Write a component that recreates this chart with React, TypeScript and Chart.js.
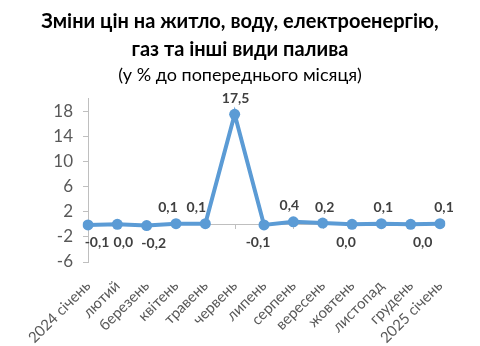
import React, { useEffect, useRef } from "react";
import { Chart, registerables } from "chart.js";

Chart.register(...registerables);

const categories = [
  "2024 січень", "лютий", "березень", "квітень", "травень", "червень",
  "липень", "серпень", "вересень", "жовтень", "листопад", "грудень", "2025 січень",
];
const values = [-0.1, 0.0, -0.2, 0.1, 0.1, 17.5, -0.1, 0.4, 0.2, 0.0, 0.1, 0.0, 0.1];
const yTicks = [-6, -2, 2, 6, 10, 14, 18];
const labelPlacement = ["below", "below", "below", "above", "above", "above", "below", "above", "above", "below", "above", "below", "above"];
const labelShiftX = [9, 6, 7, -8, -9, 1, -6, -4, 2, -6, 2, 12, 4];

const FONT = "Lato, 'Open Sans', sans-serif";

const zeroLinePlugin = {
  id: "zeroLine",
  beforeDatasetsDraw(chart: any) {
    const { ctx, chartArea, scales } = chart;
    const y0 = Math.round(scales.y.getPixelForValue(0));
    ctx.save();
    ctx.strokeStyle = "#bfbfbf";
    ctx.lineWidth = 1;
    ctx.beginPath();
    ctx.moveTo(chartArea.left, y0 + 0.5);
    ctx.lineTo(chartArea.right, y0 + 0.5);
    for (let i = 0; i < categories.length; i++) {
      const x = Math.round(scales.x.getPixelForValue(i)) + 0.5;
      ctx.moveTo(x, y0);
      ctx.lineTo(x, y0 + 5);
    }
    ctx.stroke();
    ctx.restore();
  },
};

const labelPlugin = {
  id: "pointLabels",
  afterDatasetsDraw(chart: any) {
    const { ctx } = chart;
    const meta = chart.getDatasetMeta(0);
    ctx.save();
    ctx.font = `bold 14px ${FONT}`;
    ctx.fillStyle = "#404040";
    ctx.textAlign = "center";
    ctx.textBaseline = "middle";
    meta.data.forEach((pt: any, i: number) => {
      const v = values[i];
      const txt = v.toFixed(1).replace(".", ",");
      const dy = labelPlacement[i] === "above" ? -16 : 18;
      ctx.fillText(txt, pt.x + labelShiftX[i], pt.y + dy);
    });
    ctx.restore();
  },
};

export default function App() {
  const ref = useRef<HTMLCanvasElement>(null);
  useEffect(() => {
    document.body.style.margin = "0";
    const chart = new Chart(ref.current!, {
      type: "line",
      data: {
        labels: categories,
        datasets: [
          {
            data: values,
            borderColor: "#5b9bd5",
            backgroundColor: "#5b9bd5",
            borderWidth: 4,
            pointRadius: 5.5,
            pointBorderWidth: 0,
            pointBackgroundColor: "#5b9bd5",
            tension: 0,
          },
        ],
      },
      options: {
        animation: false,
        responsive: false,
        maintainAspectRatio: false,
        layout: { padding: { left: 0, right: 0, top: 0, bottom: 0 } },
        plugins: {
          legend: { display: false },
          tooltip: { enabled: false },
          title: {
            display: true,
            text: ["Зміни цін на житло, воду, електроенергію,", "газ та інші види палива"],
            color: "#000000",
            font: { family: FONT, size: 20, weight: "bold", lineHeight: 1.4 },
            padding: { top: 8, bottom: 0 },
          },
          subtitle: {
            display: true,
            text: "(у % до попереднього місяця)",
            color: "#000000",
            font: { family: FONT, size: 18, weight: "normal", lineHeight: 1.2 },
            padding: { top: 0, bottom: 13 },
          },
        },
        scales: {
          x: {
            type: "category",
            offset: false,
            grid: { display: false, drawTicks: false },
            border: { display: false },
            ticks: {
              color: "#595959",
              font: { family: FONT, size: 15 },
              minRotation: 45,
              maxRotation: 45,
              autoSkip: false,
              padding: 15,
            },
            afterFit(scale: any) {
              scale.height = 84;
            },
          },
          y: {
            min: -6,
            max: 20,
            afterBuildTicks(scale: any) {
              scale.ticks = yTicks.map((v) => ({ value: v }));
            },
            grid: {
              display: true,
              drawOnChartArea: false,
              drawTicks: true,
              tickLength: 5,
              color: "#bfbfbf",
            },
            border: { display: true, color: "#bfbfbf", width: 1 },
            ticks: {
              color: "#595959",
              font: { family: FONT, size: 17 },
              padding: 10,
            },
            afterFit(scale: any) {
              scale.width = 88;
            },
          },
          yRight: {
            type: "linear",
            position: "right",
            display: true,
            grid: { display: false, drawTicks: false },
            border: { display: false },
            ticks: { display: false },
            afterFit(scale: any) {
              scale.width = 40;
            },
          },
        },
      } as any,
      plugins: [zeroLinePlugin, labelPlugin],
    });
    return () => chart.destroy();
  }, []);
  return (
    <div style={{ width: 480, height: 346, background: "#fff" }}>
      <canvas ref={ref} width={480} height={346} style={{ display: "block" }} />
    </div>
  );
}
